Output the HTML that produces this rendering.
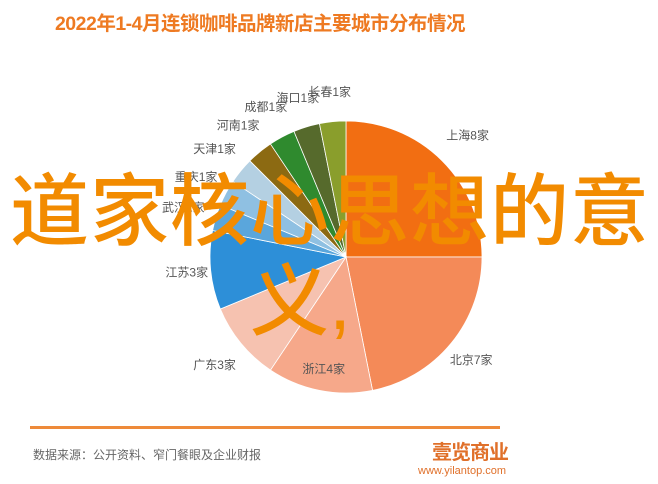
<!DOCTYPE html>
<html><head><meta charset="utf-8"><style>
body{margin:0;width:658px;height:484px;background:#fff;overflow:hidden;position:relative;font-family:"Liberation Sans","Noto Sans CJK SC",sans-serif}
.t{position:absolute;white-space:nowrap}
</style></head><body>
<div class="t" style="left:40px;top:7px;width:440px;text-align:center;font-size:19.5px;font-weight:bold;color:#ee7a22;letter-spacing:-0.5px">2022年1-4月连锁咖啡品牌新店主要城市分布情况</div>
<svg id="pie" width="658" height="484" style="position:absolute;left:0;top:0"></svg>
<div class="t" style="left:10px;top:162px;font-size:79px;line-height:100px;color:#f28b00;letter-spacing:1px;font-weight:500">道家核心思想的意</div>
<div class="t" style="left:250px;top:252px;font-size:79px;line-height:100px;color:#f28b00;font-weight:500">义,</div>
<div style="position:absolute;left:30px;top:426px;width:470px;height:3px;background:#ee8a3a"></div>
<div class="t" style="left:33px;top:446px;font-size:12px;color:#666">数据来源：公开资料、窄门餐眼及企业财报</div>
<div class="t" style="left:432px;top:436px;font-size:20px;font-weight:bold;color:#e0702a;letter-spacing:-1px">壹览商业</div>
<div class="t" style="left:418px;top:465px;font-size:11px;color:#e0702a">www.yilantop.com</div>
<script>
const cities=["上海","北京","浙江","广东","江苏","武汉","重庆","天津","河南","成都","海口","长春"];
const counts=[8,7,4,3,3,1,1,1,1,1,1,1];
const labels=["上海8家","北京7家","浙江4家","广东3家","江苏3家","武汉1家","重庆1家","天津1家","河南1家","成都1家","海口1家","长春1家"];
const colors=["#f26e12","#f48a58","#f6a88a","#f6c2b0","#2d8fd8","#5aa6dc","#8fc0e2","#b4d0e2","#8c6a12","#2f8a2e","#566a2c","#8a9e2c"];
const labelRadius=[172,162,114,170,160,170,170,170,170,170,166,166];
const cx=346,cy=257,r=136;
const svg=document.getElementById('pie');
const NS="http://www.w3.org/2000/svg";
const total=counts.reduce((a,b)=>a+b,0);
function pt(a,rr){return [cx+rr*Math.sin(a),cy-rr*Math.cos(a)];}
let acc=0;
counts.forEach((v,i)=>{
  const a0=acc/total*2*Math.PI;acc+=v;const a1=acc/total*2*Math.PI;
  const p0=pt(a0,r),p1=pt(a1,r);
  const path=document.createElementNS(NS,'path');
  path.setAttribute('d',`M${cx},${cy}L${p0[0]},${p0[1]}A${r},${r} 0 ${a1-a0>Math.PI?1:0} 1 ${p1[0]},${p1[1]}Z`);
  path.setAttribute('fill',colors[i]);path.setAttribute('stroke','#fff');path.setAttribute('stroke-width','0.8');
  
  
  svg.appendChild(path);
  const am=(a0+a1)/2;const lp=pt(am,labelRadius[i]);
  const t=document.createElementNS(NS,'text');
  t.setAttribute('x',lp[0]);t.setAttribute('y',lp[1]+4);
  t.setAttribute('text-anchor','middle');
  t.setAttribute('font-size','12');t.setAttribute('fill','#555');
  t.setAttribute('font-family','"Liberation Sans","Noto Sans CJK SC",sans-serif');
  t.textContent=labels[i];
  
  
  svg.appendChild(t);
});
</script>
</body></html>
